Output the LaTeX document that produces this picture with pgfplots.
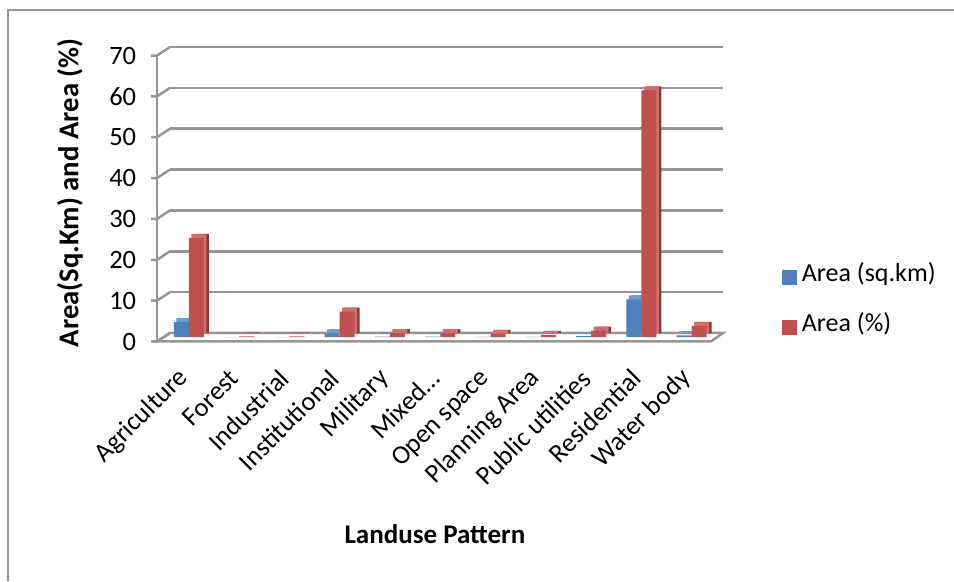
\documentclass[border=0pt]{standalone}
\usepackage{fontspec}
\setmainfont{Carlito}
\usepackage{pgfplots}
\usepackage{pgfplotstable}
\pgfplotsset{compat=1.18}
\definecolor{barblue}{HTML}{4F81BD}
\definecolor{barred}{HTML}{C0504D}
\definecolor{darkblue}{HTML}{3A6190}
\definecolor{darkred}{HTML}{8C3836}
\definecolor{topblue}{HTML}{6F9AD0}
\definecolor{topred}{HTML}{D06F6B}
\definecolor{gridgray}{HTML}{969696}

\pgfplotstableread{
idx sqkm pct
0 3.7 24.3
1 0.03 0.2
2 0.03 0.2
3 0.97 6.3
4 0.15 1.0
5 0.15 1.0
6 0.12 0.8
7 0.09 0.6
8 0.25 1.6
9 9.3 60.4
10 0.43 2.8
}\landuse

\begin{document}
\begin{tikzpicture}
\useasboundingbox (0,0) rectangle (381.6pt,232.4pt);
\draw[gridgray, line width=0.9pt] (3.2pt,0) -- (3.2pt,228.4pt) -- (381.6pt,228.4pt);
\begin{axis}[
  at={(68pt,99.2pt)}, anchor=south west,
  width=221.2pt, height=114.4pt, scale only axis,
  xmin=-0.5, xmax=10.5, ymin=0, ymax=70,
  ytick={0,10,...,70},
  xtick={0,...,10},
  xticklabels={Agriculture,Forest,Industrial,Institutional,Military,Mixed…,Open space,Planning Area,Public utilities,Residential,Water body},
  ymajorgrids, grid style={gridgray, line width=1pt},
  axis line style={draw=none}, major tick length=0pt,
  tick label style={font=\fontsize{10.6}{12.5}\selectfont},
  /pgf/number format/assume math mode=true,
  yticklabel style={xshift=-10pt, yshift=-3.4pt},
  xticklabel style={xshift=-2pt, yshift=-14pt, rotate=45, anchor=east},
  ylabel={\textbf{Area(Sq.Km) and Area (\%)}},
  ylabel style={at={(axis description cs:-0.181,0.49)}, anchor=center, font=\fontsize{11.5}{13}\selectfont},
  xlabel={\textbf{Landuse Pattern}},
  xlabel style={at={(axis description cs:0.479,-0.703)}, anchor=center, font=\fontsize{10.8}{13}\selectfont},
  legend style={at={(axis description cs:1.092,0.285)}, anchor=north west, draw=none, fill=none, row sep=7pt, font=\fontsize{10.4}{12.5}\selectfont},
  legend cell align=left,
  clip=false,
]
\draw[gridgray, line width=1pt, fill=white] (axis cs:-0.5,0) -- (axis cs:10.5,0) -- ([shift={(-4.8pt,-3.4pt)}]axis cs:10.5,0) -- ([shift={(-5.2pt,-3.4pt)}]axis cs:-0.5,0) -- cycle;
\draw[gridgray, line width=1pt] ([shift={(-5.2pt,-3.4pt)}]axis cs:-0.5,0) -- ([shift={(-5.2pt,-3.4pt)}]axis cs:-0.5,70);
\pgfplotsinvokeforeach{0,10,...,70}{\draw[gridgray, line width=1pt] (axis cs:-0.5,#1) -- ++(-5.2pt,-3.4pt) -- ++(-2.4pt,0pt);}
% blue series: side, top, front
\addplot[ybar, bar width=6pt, bar shift=-3pt, fill=darkblue, draw=none, xshift=-0.5pt, yshift=-0.1pt, forget plot] table[x=idx,y=sqkm]{\landuse};
\addplot[ybar, bar width=6pt, bar shift=-3pt, fill=topblue, draw=none, xshift=-1.5pt, yshift=-0.1pt, forget plot] table[x=idx,y=sqkm]{\landuse};
\addplot[ybar, bar width=6pt, bar shift=-3pt, fill=barblue, draw=none, xshift=-2.5pt, yshift=-1.7pt,
  legend image code/.code={\fill[barblue] (0pt,-3pt) rectangle (6pt,3pt);}] table[x=idx,y=sqkm]{\landuse};
\addlegendentry{Area (sq.km)}
% red series: side, top, front
\addplot[ybar, bar width=6pt, bar shift=3pt, fill=darkred, draw=none, xshift=-0.5pt, yshift=-0.1pt, forget plot] table[x=idx,y=pct]{\landuse};
\addplot[ybar, bar width=6pt, bar shift=3pt, fill=topred, draw=none, xshift=-1.5pt, yshift=-0.1pt, forget plot] table[x=idx,y=pct]{\landuse};
\addplot[ybar, bar width=6pt, bar shift=3pt, fill=barred, draw=none, xshift=-2.5pt, yshift=-1.7pt,
  legend image code/.code={\fill[barred] (0pt,-3pt) rectangle (6pt,3pt);}] table[x=idx,y=pct]{\landuse};
\addlegendentry{Area (\%)}
\end{axis}
\end{tikzpicture}
\end{document}
